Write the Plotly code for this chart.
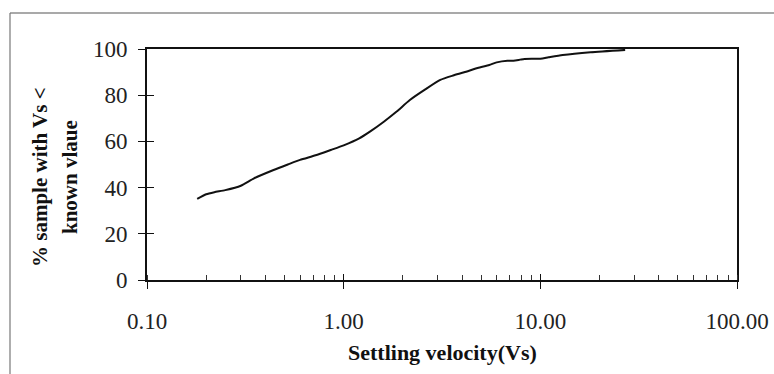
import plotly.graph_objects as go

# Settling velocity (Vs) and cumulative % of sample with Vs < value
velocity = [0.18, 0.20, 0.22, 0.25, 0.30, 0.35, 0.44, 0.52, 0.60, 0.72, 0.86, 1.00,
            1.20, 1.36, 1.60, 1.86, 2.17, 2.60, 3.10, 3.60, 4.10, 4.80, 5.50, 6.00,
            6.80, 7.30, 7.90, 8.30, 10.0, 11.0, 13.0, 18.0, 27.0]
percent = [35.1, 37.1, 38.0, 38.9, 40.8, 44.0, 47.6, 50.0, 52.0, 54.0, 56.3, 58.3,
           61.3, 64.2, 68.5, 72.9, 77.9, 82.5, 86.6, 88.5, 89.9, 91.8, 93.1, 94.2,
           94.9, 94.9, 95.4, 95.7, 95.8, 96.4, 97.4, 98.6, 99.6]

x_tick_vals = [0.1, 1, 10, 100]
y_tick_vals = [0, 20, 40, 60, 80, 100]
x_title = "Settling velocity(Vs)"
y_title_1 = "% sample with Vs &lt;"
y_title_2 = "known vlaue"

W, H = 774, 374
L, R, T, B = 147, 37, 49, 94
pw, ph = W - L - R, H - T - B

def px_x(p):
    return (p - L) / pw

def px_y(p):
    return (H - B - p) / ph

tick_font = dict(family="Liberation Serif", size=23, color="#222")
xtitle_font = dict(family="Liberation Serif", size=22, color="#111", weight="bold")
ytitle_font = dict(family="Liberation Serif", size=21, color="#111", weight="bold")

fig = go.Figure()
fig.add_trace(go.Scatter(x=velocity, y=percent, mode="lines",
                         line=dict(color="#111", width=2, shape="spline", smoothing=0.6),
                         showlegend=False, hoverinfo="x+y"))
fig.add_trace(go.Scatter(x=velocity, y=percent, mode="lines", xaxis="x2", yaxis="y2",
                         line=dict(width=0), opacity=0, showlegend=False, hoverinfo="skip"))

fig.update_layout(
    width=W, height=H,
    margin=dict(l=L, r=R, t=T, b=B, autoexpand=False),
    paper_bgcolor="white", plot_bgcolor="white",
    xaxis=dict(type="log", range=[-1, 2], tickvals=x_tick_vals, tickformat=".2f",
               ticks="outside", ticklen=7, tickwidth=1.2, tickcolor="#111",
               showline=True, linewidth=1.8, linecolor="#111", mirror=True,
               showgrid=False, zeroline=False, tickfont=tick_font,
               ticklabelstandoff=12, automargin=False,
               minor=dict(ticks="inside", ticklen=5, tickwidth=1, tickcolor="#333",
                          dtick="D1", showgrid=False)),
    yaxis=dict(range=[0, 100], tickvals=y_tick_vals,
               ticks="outside", ticklen=7, tickwidth=1.2, tickcolor="#111",
               showline=True, linewidth=1.8, linecolor="#111", mirror=True,
               showgrid=False, zeroline=False, tickfont=tick_font,
               ticklabelstandoff=6, automargin=False),
    xaxis2=dict(type="log", range=[-1, 2], overlaying="x", anchor="y2",
                tickvals=[1, 10], ticks="inside", ticklen=6, tickwidth=1.2,
                tickcolor="#111", showticklabels=False, showline=False,
                showgrid=False, zeroline=False, side="bottom", automargin=False),
    yaxis2=dict(range=[0, 100], overlaying="y", anchor="x2",
                tickvals=[20, 40, 60, 80], ticks="inside", ticklen=7, tickwidth=1.2,
                tickcolor="#111", showticklabels=False, showline=False,
                showgrid=False, zeroline=False, side="left", automargin=False),
    annotations=[
        dict(text=x_title, xref="paper", yref="paper", x=0.5, y=px_y(352),
             xanchor="center", yanchor="middle", showarrow=False, font=xtitle_font),
        dict(text=y_title_1, xref="paper", yref="paper", x=px_x(40), y=px_y(177),
             xanchor="center", yanchor="middle", showarrow=False, textangle=-90,
             font=ytitle_font),
        dict(text=y_title_2, xref="paper", yref="paper", x=px_x(70), y=px_y(177),
             xanchor="center", yanchor="middle", showarrow=False, textangle=-90,
             font=ytitle_font),
    ],
    shapes=[
        dict(type="line", xref="paper", yref="paper",
             x0=px_x(10), x1=px_x(790), y0=px_y(13), y1=px_y(13),
             line=dict(color="#555", width=1.2)),
        dict(type="line", xref="paper", yref="paper",
             x0=px_x(10), x1=px_x(10), y0=px_y(13), y1=px_y(390),
             line=dict(color="#777", width=1.2)),
    ],
)

fig.write_html("out.html")
